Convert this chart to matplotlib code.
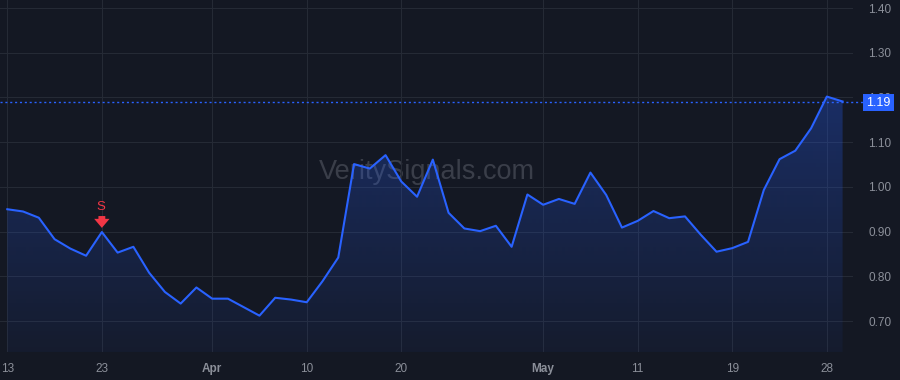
import matplotlib.pyplot as plt
import numpy as np
from matplotlib.patches import Rectangle

plt.rcParams['font.family'] = ['Liberation Sans', 'DejaVu Sans']

# daily closes, Mar 13 .. May 29 (trading days only)
values = [
    0.950, 0.945, 0.931, 0.883, 0.862, 0.846, 0.899, 0.853, 0.866, 0.808,
    0.765, 0.739, 0.775, 0.750, 0.750, 0.731, 0.712, 0.752, 0.748, 0.742,
    0.789, 0.842, 1.051, 1.041, 1.071, 1.012, 0.978, 1.061, 0.942, 0.907,
    0.901, 0.913, 0.866, 0.983, 0.960, 0.973, 0.962, 1.032, 0.982, 0.909,
    0.924, 0.946, 0.930, 0.934, 0.893, 0.855, 0.863, 0.877, 0.993, 1.062,
    1.081, 1.131, 1.202, 1.191,
]
x_labels = ['13', '23', 'Apr', '10', '20', 'May', '11', '19', '28']
x_label_idx = [0, 6, 13, 19, 25, 34, 40, 46, 52]
y_ticks = [0.70, 0.80, 0.90, 1.00, 1.10, 1.20, 1.30, 1.40]
signal_idx = 6
signal_text = 'S'
last_price = 1.19
watermark = 'VeritySignals.com'

BG = '#141823'
GRID = '#252a35'
BLUE = '#2962ff'
RED = '#f23645'
TXT = '#8b8f99'

x = np.arange(len(values))
y = np.array(values)

fig = plt.figure(figsize=(9, 3.8), dpi=100, facecolor=BG)
ax = fig.add_axes([0, 28 / 380, 853 / 900, 352 / 380], facecolor=BG)

xlo, xhi = -0.463, 53.66
ylo, yhi = 0.6307, 1.418
ax.set_xlim(xlo, xhi)
ax.set_ylim(ylo, yhi)

# gradient fill under the line
poly = ax.fill_between(x, y, ylo, facecolor='none', edgecolor='none')
grad = np.linspace(0.05, 0.30, 256).reshape(-1, 1)
rgba = np.zeros((256, 1, 4))
rgba[..., 0] = 0x29 / 255
rgba[..., 1] = 0x62 / 255
rgba[..., 2] = 1.0
rgba[..., 3] = grad
img = ax.imshow(rgba, extent=[x[0], x[-1], ylo, y.max()], origin='lower',
                aspect='auto', zorder=1)
img.set_clip_path(poly.get_paths()[0], transform=ax.transData)

ax.plot(x, y, color=BLUE, lw=1.5, zorder=3)

# last price dotted line
ax.axhline(last_price, xmin=0, xmax=863 / 853, color=BLUE, lw=1,
           linestyle=(0, (1.5, 2)), clip_on=False, zorder=2)

# watermark
ax.text(0.5006, 0.511, watermark, transform=ax.transAxes, ha='center',
        va='center', fontsize=19.5, color='#3a3e49', zorder=0.5)

# sell signal
ax.annotate('', xy=(signal_idx, values[signal_idx]), xytext=(0, 16),
            textcoords='offset pixels',
            arrowprops=dict(arrowstyle='simple,head_length=0.5,head_width=0.85,tail_width=0.38',
                            mutation_scale=13, color=RED, shrinkA=0, shrinkB=3,
                            lw=0),
            zorder=4)
ax.annotate(signal_text, xy=(signal_idx, values[signal_idx]), xytext=(-1, 25),
            textcoords='offset pixels', ha='center', va='center',
            fontsize=9.5, color=RED, zorder=4)

# axes styling
ax.set_xticks(x_label_idx)
ax.set_xticklabels(x_labels)
for lbl in ax.get_xticklabels():
    if lbl.get_text() in ('Apr', 'May'):
        lbl.set_fontweight('bold')
        lbl.set_color('#a3a6ae')
ax.set_yticks(y_ticks)
ax.set_yticklabels([f'{v:.2f}' for v in y_ticks])
ax.yaxis.tick_right()
ax.tick_params(axis='both', length=0, labelsize=8.5, labelcolor=TXT)
ax.tick_params(axis='y', pad=11)
ax.tick_params(axis='x', pad=8)
ax.grid(True, color=GRID, lw=0.8)
ax.set_axisbelow(True)
for s in ax.spines.values():
    s.set_visible(False)

# last price label (covers the 1.20 tick like the reference)
fig.add_artist(Rectangle((863 / 900, 1 - 111 / 380), 31 / 900, 17 / 380,
                         transform=fig.transFigure, facecolor=BLUE,
                         edgecolor='none', zorder=5))
fig.text(878.5 / 900, 1 - 102.5 / 380, f'{last_price:.2f}', color='white',
         fontsize=9, ha='center', va='center', zorder=6)

fig.savefig('out.png', dpi=100, facecolor=BG)
